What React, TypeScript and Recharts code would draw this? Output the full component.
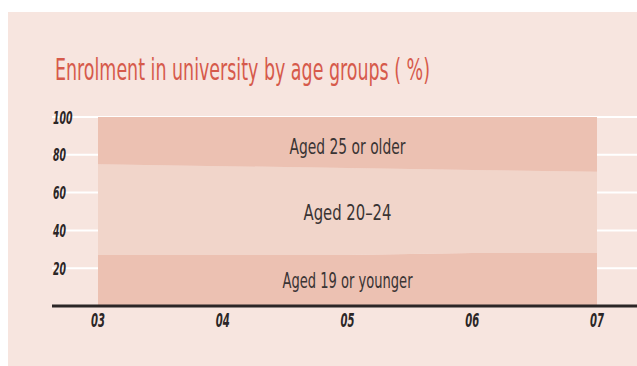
import { AreaChart, Area, XAxis, YAxis, CartesianGrid, ReferenceDot } from 'recharts';

const years = ['03', '04', '05', '06', '07'];
const aged19OrYounger = [27, 27, 27, 28, 28];
const aged20to24 = [48, 47, 46, 44, 43];
const aged25OrOlder = [25, 26, 27, 28, 29];
const yTicks = [0, 20, 40, 60, 80, 100];

const data = years.map((year, i) => ({
  year,
  young: aged19OrYounger[i],
  mid: aged20to24[i],
  old: aged25OrOlder[i],
}));

const FONT = "'Liberation Sans Narrow', 'DejaVu Sans Condensed', 'Liberation Sans', sans-serif";
const BAND = '#ecc1b2';
const MID = '#f1d5ca';
const INK = '#2b2626';

const YTick = ({ y, payload }: any) => {
  if (payload.value === 0) return null;
  const label = String(payload.value);
  return (
    <text x={53} y={y} dy={6.5} textAnchor="start" fontFamily={FONT} fontSize={18}
      fontWeight="bold" fontStyle="italic" fill={INK}
      textLength={label.length * 6.5} lengthAdjust="spacingAndGlyphs">
      {label}
    </text>
  );
};

const XTick = ({ x, y, payload }: any) => (
  <text x={x} y={y} dy={13} textAnchor="middle" fontFamily={FONT} fontSize={20}
    fontWeight="bold" fontStyle="italic" fill={INK}
    textLength={14} lengthAdjust="spacingAndGlyphs">
    {payload.value}
  </text>
);

const bandLabel = (text: string, width: number, shift: number) => (props: any) => {
  const { viewBox } = props;
  const cx = viewBox.x + (viewBox.width || 0) / 2;
  const cy = viewBox.y + (viewBox.height || 0) / 2;
  return (
    <text x={cx} y={cy} dy={8 + shift} textAnchor="middle" fontFamily={FONT} fontSize={22}
      fill="#3a3434" textLength={width} lengthAdjust="spacingAndGlyphs">
      {text}
    </text>
  );
};

export default function App() {
  const mid = 2;
  const lowTop = aged19OrYounger[mid];
  const midTop = lowTop + aged20to24[mid];
  return (
    <div style={{ position: 'absolute', left: 0, top: 0, width: 637, height: 366, background: '#fff' }}>
      <div style={{ position: 'absolute', left: 8, top: 12, width: 629, height: 354, background: '#f7e5df' }} />
      <svg style={{ position: 'absolute', left: 0, top: 0 }} width={637} height={100}>
        <text x={55} y={80} fontFamily={FONT} fontSize={30} fill="#d65a4b"
          textLength={375} lengthAdjust="spacingAndGlyphs">
          Enrolment in university by age groups ( %)
        </text>
      </svg>
      <div style={{ position: 'absolute', left: 0, top: 0 }}>
        <AreaChart width={637} height={366} data={data}
          margin={{ top: 117, right: 0, bottom: 0, left: 51 }}>
          <CartesianGrid horizontal vertical={false} stroke="#ffffff" strokeWidth={2} />
          <XAxis dataKey="year" padding={{ left: 46, right: 40 }} height={60}
            axisLine={{ stroke: INK, strokeWidth: 3 }} tickLine={false} tick={<XTick />} />
          <YAxis width={1} domain={[0, 100]} ticks={yTicks} axisLine={false} tickLine={false}
            tick={<YTick />} />
          <Area type="linear" dataKey="young" stackId="1" stroke="none" fill={BAND} fillOpacity={1} isAnimationActive={false} />
          <Area type="linear" dataKey="mid" stackId="1" stroke="none" fill={MID} fillOpacity={1} isAnimationActive={false} />
          <Area type="linear" dataKey="old" stackId="1" stroke="none" fill={BAND} fillOpacity={1} isAnimationActive={false} />
          <ReferenceDot x="05" y={(midTop + 100) / 2} r={0} stroke="none" label={bandLabel('Aged 25 or older', 116, 3)} />
          <ReferenceDot x="05" y={(lowTop + midTop) / 2} r={0} stroke="none" label={bandLabel('Aged 20–24', 88, 0)} />
          <ReferenceDot x="05" y={lowTop / 2} r={0} stroke="none" label={bandLabel('Aged 19 or younger', 130, 0)} />
        </AreaChart>
      </div>
    </div>
  );
}
